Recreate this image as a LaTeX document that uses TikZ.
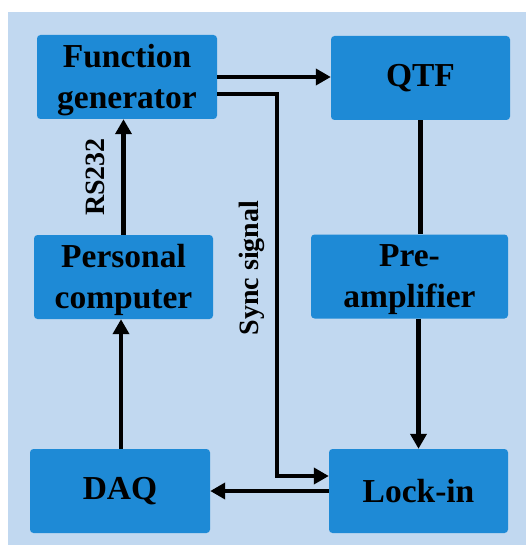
\documentclass[tikz,border=0pt]{standalone}
\usepackage{fontspec}
\setmainfont{Liberation Serif}
\usetikzlibrary{arrows.meta}
\definecolor{panelblue}{RGB}{193,216,240}
\definecolor{boxblue}{RGB}{30,138,214}
\newcommand{\tallstrut}{\rule{0pt}{29pt}}
\begin{document}
\begin{tikzpicture}[x=1pt, y=-1pt,
  blk/.style={fill=boxblue, rounded corners=3.5pt, minimum height=84pt, align=center, inner sep=0pt, font=\fontsize{33.5}{41}\selectfont\bfseries},
  lbl/.style={rotate=90, inner sep=0pt, font=\fontsize{28}{32}\selectfont\bfseries},
  wire/.style={line width=4.5pt},
  arr/.style={line width=4.5pt, -{Triangle[length=15pt,width=16pt]}}]
\useasboundingbox (0,0) rectangle (526,545);
\fill[panelblue] (8,12) rectangle (526,545);
\node[blk, minimum width=180pt] (fg) at (127,77){\tallstrut Function\\generator};
\node[blk, minimum width=179pt] (qtf) at (420.5,78){QTF};
\node[blk, minimum width=179pt] (pc) at (123.5,277){\tallstrut Personal\\computer};
\node[blk, minimum width=197pt] (pre) at (409.5,276.5){\tallstrut Pre-\\amplifier};
\node[blk, minimum width=180pt] (daq) at (120,491){DAQ};
\node[blk, minimum width=179pt] (lock) at (418.5,491){Lock-in};
\node[lbl] (rs) at (95,177){RS232};
\node[lbl] (sync) at (252,268){Sync signal};
\draw[arr] (fg.east) -- (fg.east -| qtf.west);
\draw[arr] ([yshift=-17pt]fg.east) -- ++(60,0) |- ([yshift=15pt]lock.west);
\draw[wire] (qtf.south) -- (qtf.south |- pre.north);
\draw[arr] (lock.north |- pre.south) -- (lock.north);
\draw[arr] (lock.west) -- (daq.east);
\draw[arr] ([xshift=1pt]daq.north) -- ([xshift=1pt]daq.north |- pc.south);
\draw[arr] (pc.north) -- (pc.north |- fg.south);
\end{tikzpicture}
\end{document}
